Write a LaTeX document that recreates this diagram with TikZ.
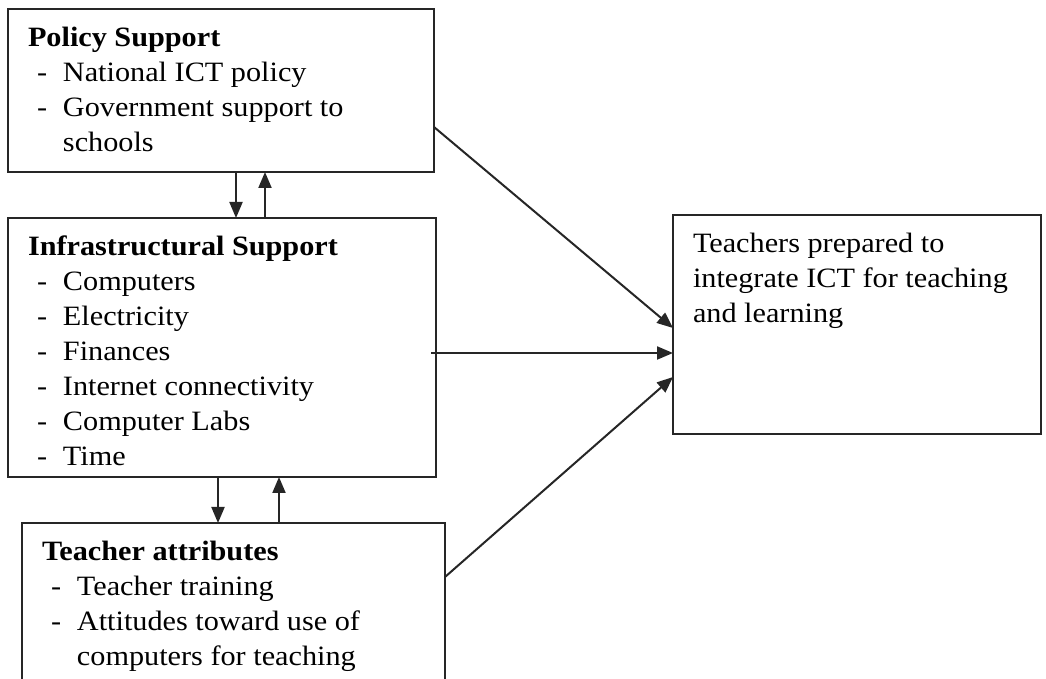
\documentclass[tikz,border=0pt]{standalone}
\usepackage{fontspec}
\setmainfont[FakeStretch=1.08]{Liberation Serif}
\usepackage{tikz}
\usetikzlibrary{arrows.meta}

\tikzstyle{box} = [rectangle, draw=black!85, line width=1.2pt, anchor=north west, inner xsep=10pt, inner ysep=9pt, outer sep=0pt]
\tikzstyle{arrow} = [line width=1pt, draw=black!85, -{Triangle[length=8pt,width=6.5pt]}]

\newcommand{\cell}[3]{\parbox[c][#1][t]{#2}{\fontsize{14}{17.5}\selectfont\raggedright #3}}
\newcommand{\itm}[1]{\hspace*{4.5pt}\makebox[13pt][l]{-}#1}
\newcommand{\cnt}[1]{\hspace*{17.5pt}#1}

\begin{document}
\begin{tikzpicture}[x=0.5pt, y=-0.5pt]
	\useasboundingbox (0,0) rectangle (1046,679);

	\node (policy) [box] at (8,9) {\cell{63.5pt}{193pt}{\textbf{Policy Support}\\
		\itm{National ICT policy}\\
		\itm{Government support to}\\
		\cnt{schools}}};
	\node (infra) [box] at (8,218) {\cell{111.5pt}{194pt}{\textbf{Infrastructural Support}\\
		\itm{Computers}\\
		\itm{Electricity}\\
		\itm{Finances}\\
		\itm{Internet connectivity}\\
		\itm{Computer Labs}\\
		\itm{Time}}};
	\node (teacher) [box] at (22,523) {\cell{65.5pt}{191.5pt}{\textbf{Teacher attributes}\\
		\itm{Teacher training}\\
		\itm{Attitudes toward use of}\\
		\cnt{computers for teaching}}};
	\node (ready) [box] at (673,215) {\cell{91.5pt}{164pt}{Teachers prepared to\\
		integrate ICT for teaching\\
		and learning}};

	\draw [arrow] (policy.south -| 236,0) -- (infra.north -| 236,0);
	\draw [arrow] (infra.north -| 265,0) -- (policy.south -| 265,0);
	\draw [arrow] (infra.south -| 218,0) -- (teacher.north -| 218,0);
	\draw [arrow] (teacher.north -| 279,0) -- (infra.south -| 279,0);

	\draw [arrow] (policy.east |- 0,127) -- (ready.west |- 0,328);
	\draw [arrow] ([xshift=-2.5pt]infra.east |- 0,353) -- (ready.west |- 0,353);
	\draw [arrow] (teacher.east |- 0,577) -- (ready.west |- 0,377);

\end{tikzpicture}
\end{document}
